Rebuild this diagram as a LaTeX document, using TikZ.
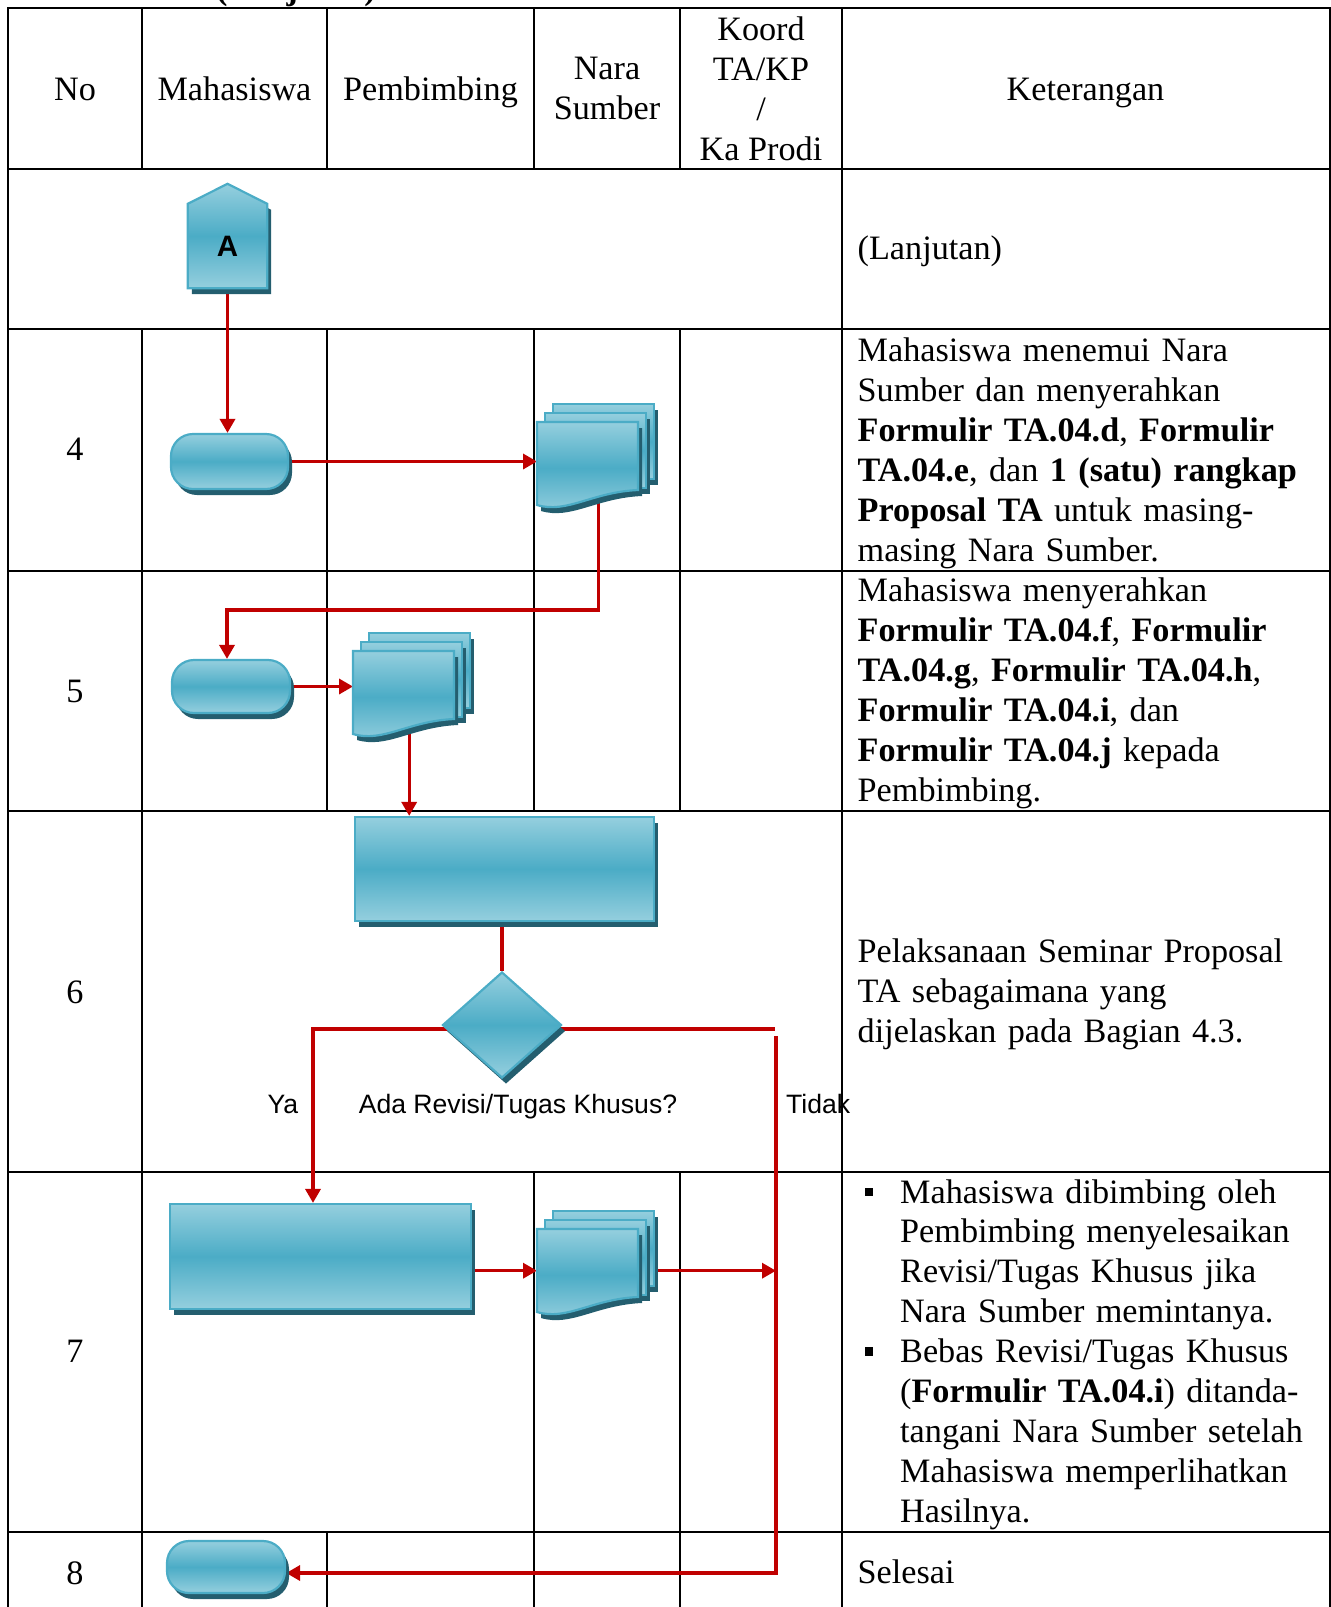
\documentclass[tikz,border=0pt]{standalone}
\usepackage{fontspec}
\setmainfont{Liberation Serif}
\newfontfamily\arialfont{Liberation Sans}
\usetikzlibrary{arrows.meta,shapes.geometric,shadows}

\definecolor{redc}{HTML}{C00000}
\definecolor{shlite}{HTML}{95CFDE}
\definecolor{shmid}{HTML}{4BACC6}
\definecolor{shedge}{HTML}{4BACC6}
\definecolor{shdark}{HTML}{245E6F}

\pgfdeclarelayer{bg}
\pgfdeclarelayer{conn}
\pgfdeclarelayer{shapes}
\pgfsetlayers{bg,conn,shapes,main}

\tikzset{
  grid/.style={line width=2.5pt, black},
  body/.style={font=\fontsize{34.2}{40}\selectfont, inner sep=0},
  ket/.style={body, anchor=base west, text width=470pt, align=left},
  lbl/.style={font=\arialfont\fontsize{26.6}{30}\selectfont, inner sep=0},
  flow/.style={draw=redc, line width=3.4pt},
  arr/.style={flow, -{Triangle[length=14pt,width=15pt]}},
  blueshape/.style={draw=shedge, line width=2.2pt, top color=shlite, bottom color=shlite, middle color=shmid},
  shd/.style={drop shadow={shadow xshift=4pt, shadow yshift=-6pt, fill=shdark, opacity=1}},
  term/.style={blueshape, shd, rectangle, rounded corners=22pt, inner sep=0},
  proc/.style={blueshape, shd, rectangle, inner sep=0},
  dec/.style={blueshape, shd, diamond, inner sep=0},
  bulletsq/.style={fill=black, inner sep=0, minimum size=8.5pt},
}

% stack of three document pages; #1 names the front page, (#2,#3) is its top-left corner
\newcommand\multidoc[3]{%
  \begin{scope}[shift={(#2,#3)}]
    \foreach \dx/\dy in {16/-18, 8/-9} {
      \fill[shdark] (\dx+4,\dy+6) rectangle ++(101,75);
      \path[blueshape] (\dx,\dy) rectangle ++(101,75);
    }
    \fill[shdark] (4,6) -- (105,6) -- (105,74) .. controls (59,76) and (34,98) .. (4,89) -- cycle;
    \path[blueshape] (0,0) -- (101,0) -- (101,68) .. controls (55,70) and (30,92) .. (0,83) -- cycle;
    \node[inner sep=0, minimum width=101pt, minimum height=83pt, anchor=north west] (#1) at (0,0) {};
  \end{scope}}

\begin{document}
\begin{tikzpicture}[x=1pt, y=-1pt]
\useasboundingbox (0,0) rectangle (1331,1607);

% ---------- table ----------
\begin{pgfonlayer}{bg}
  \draw[grid] (8,1607) -- (8,8) -- (1330,8) -- (1330,1607);
  \foreach \yy in {169,329,571,811,1172,1532} \draw[grid] (8,\yy) -- (1330,\yy);
  \draw[grid] (842,8) -- (842,1607);
  \draw[grid] (142,8) -- (142,169);
  \draw[grid] (142,329) -- (142,1607);
  \draw[grid] (327,8) -- (327,169);
  \draw[grid] (327,329) -- (327,811);
  \draw[grid] (327,1532) -- (327,1607);
  \foreach \xx in {534,680} {
    \draw[grid] (\xx,8) -- (\xx,169);
    \draw[grid] (\xx,329) -- (\xx,811);
    \draw[grid] (\xx,1172) -- (\xx,1607);
  }
\end{pgfonlayer}

\node[body, font=\fontsize{34.2}{40}\selectfont\bfseries, anchor=base west] (cont) at (216,-0.5) {(Lanjutan)};

% header
\node[body, anchor=base] (hno) at (75,100) {No};
\node[body, anchor=base] (hmhs) at (234.5,100) {Mahasiswa};
\node[body, anchor=base] (hpb) at (430.5,100) {Pembimbing};
\node[body, align=center] (hns) at (607,88.5) {Nara\\Sumber};
\node[body, align=center] (hkoord) at (761,88.5) {Koord\\TA/KP\\/\\Ka Prodi};
\node[body, anchor=base] (hket) at (1085.5,100) {Keterangan};

% row numbers
\node[body, anchor=base] (n4) at (75,460.5) {4};
\node[body, anchor=base] (n5) at (75,702) {5};
\node[body, anchor=base] (n6) at (75,1003.5) {6};
\node[body, anchor=base] (n7) at (75,1362) {7};
\node[body, anchor=base] (n8) at (75,1584) {8};

% descriptions
\node[ket] (k0) at (857.5,259) {(Lanjutan)};
\node[ket] (k4) at (857.5,361) {Mahasiswa menemui Nara\\Sumber dan menyerahkan\\\textbf{Formulir TA.04.d}, \textbf{Formulir}\\\textbf{TA.04.e}, dan \textbf{1 (satu) rangkap}\\\textbf{Proposal TA} untuk masing-\\masing Nara Sumber.};
\node[ket] (k5) at (857.5,601) {Mahasiswa menyerahkan\\\textbf{Formulir TA.04.f}, \textbf{Formulir}\\\textbf{TA.04.g}, \textbf{Formulir TA.04.h},\\\textbf{Formulir TA.04.i}, dan\\\textbf{Formulir TA.04.j} kepada\\Pembimbing.};
\node[ket] (k6) at (857.5,962) {Pelaksanaan Seminar Proposal\\TA sebagaimana yang\\dijelaskan pada Bagian 4.3.};
\node[bulletsq] (b1) at (869,1192) {};
\node[ket, font=\fontsize{34.2}{39.9}\selectfont] (k7a) at (900,1203) {Mahasiswa dibimbing oleh\\Pembimbing menyelesaikan\\Revisi/Tugas Khusus jika\\Nara Sumber memintanya.};
\node[bulletsq] (b2) at (869,1351.6) {};
\node[ket, font=\fontsize{34.2}{39.9}\selectfont] (k7b) at (900,1362.6) {Bebas Revisi/Tugas Khusus\\(\textbf{Formulir TA.04.i}) ditanda-\\tangani Nara Sumber setelah\\Mahasiswa memperlihatkan\\Hasilnya.};
\node[ket] (k8) at (857.5,1583) {Selesai};

% ---------- flow shapes ----------
\node[inner sep=0, minimum width=79pt, minimum height=84pt, font=\arialfont\bfseries\fontsize{29.5}{30}\selectfont] (ca) at (227.5,246) {A};
\begin{pgfonlayer}{shapes}
  \fill[shdark, transform canvas={xshift=4pt, yshift=-6pt}] (ca.south west) -- (ca.south east) -- (ca.north east) -- ([yshift=20pt]ca.north) -- (ca.north west) -- cycle;
  \path[blueshape] (ca.south west) -- (ca.south east) -- (ca.north east) -- ([yshift=20pt]ca.north) -- (ca.north west) -- cycle;
\end{pgfonlayer}

\node[term, minimum width=117pt, minimum height=55pt] (t4) at (229.5,461.5) {};
\node[term, minimum width=118pt, minimum height=53pt] (t5) at (231,686.5) {};
\node[term, minimum width=118pt, minimum height=52pt] (t8) at (226,1567) {};
\node[proc, minimum width=299pt, minimum height=104pt] (p6) at (504.5,869) {};
\node[proc, minimum width=301pt, minimum height=105pt] (p7) at (320.5,1256.5) {};
\node[dec, minimum width=119pt, minimum height=106pt] (dq) at (502,1025) {};

\multidoc{d4}{537}{422}
\multidoc{d5}{353}{651}
\multidoc{d7}{537}{1229}

\node[lbl, anchor=base] (ya) at (283,1113) {Ya};
\node[lbl, anchor=base west] (qtext) at (358.6,1113) {Ada Revisi/Tugas Khusus?};
\node[lbl, anchor=base west] (tidak) at (786,1113) {Tidak};

% ---------- connectors ----------
\coordinate (k45) at (227,610);
\coordinate (ky) at (313,1029);
\coordinate (tt) at (775,1029);
\coordinate (vt) at (776,1036);
\coordinate (vb) at (776,1573);
\begin{pgfonlayer}{conn}
  \draw[arr] (ca.south) -- (ca.south |- t4.north);
  \draw[arr] (t4.east) -- (t4.east -| d4.west);
  \draw[arr] ([xshift=11pt]d4.center) -- ([xshift=11pt]d4.center |- k45) -- (k45) -- (k45 |- t5.north);
  \draw[arr] (t5.east) -- (t5.east -| d5.west);
  \draw[arr] ([xshift=5.5pt]d5.center) -- ([xshift=5.5pt]d5.center |- p6.north);
  \draw[flow] (dq.north |- p6.south) -- (dq.north);
  \draw[arr] (dq.center |- ky) -- (ky) -- (ky |- p7.north);
  \draw[flow] (dq.center |- tt) -- (tt);
  \draw[arr] (vt) -- (vb) -- (vb -| t8.east);
  \draw[arr] (d7.west -| p7.east) -- (d7.west);
  \draw[arr] (d7.east) -- (d7.east -| vb);
\end{pgfonlayer}
\end{tikzpicture}
\end{document}
